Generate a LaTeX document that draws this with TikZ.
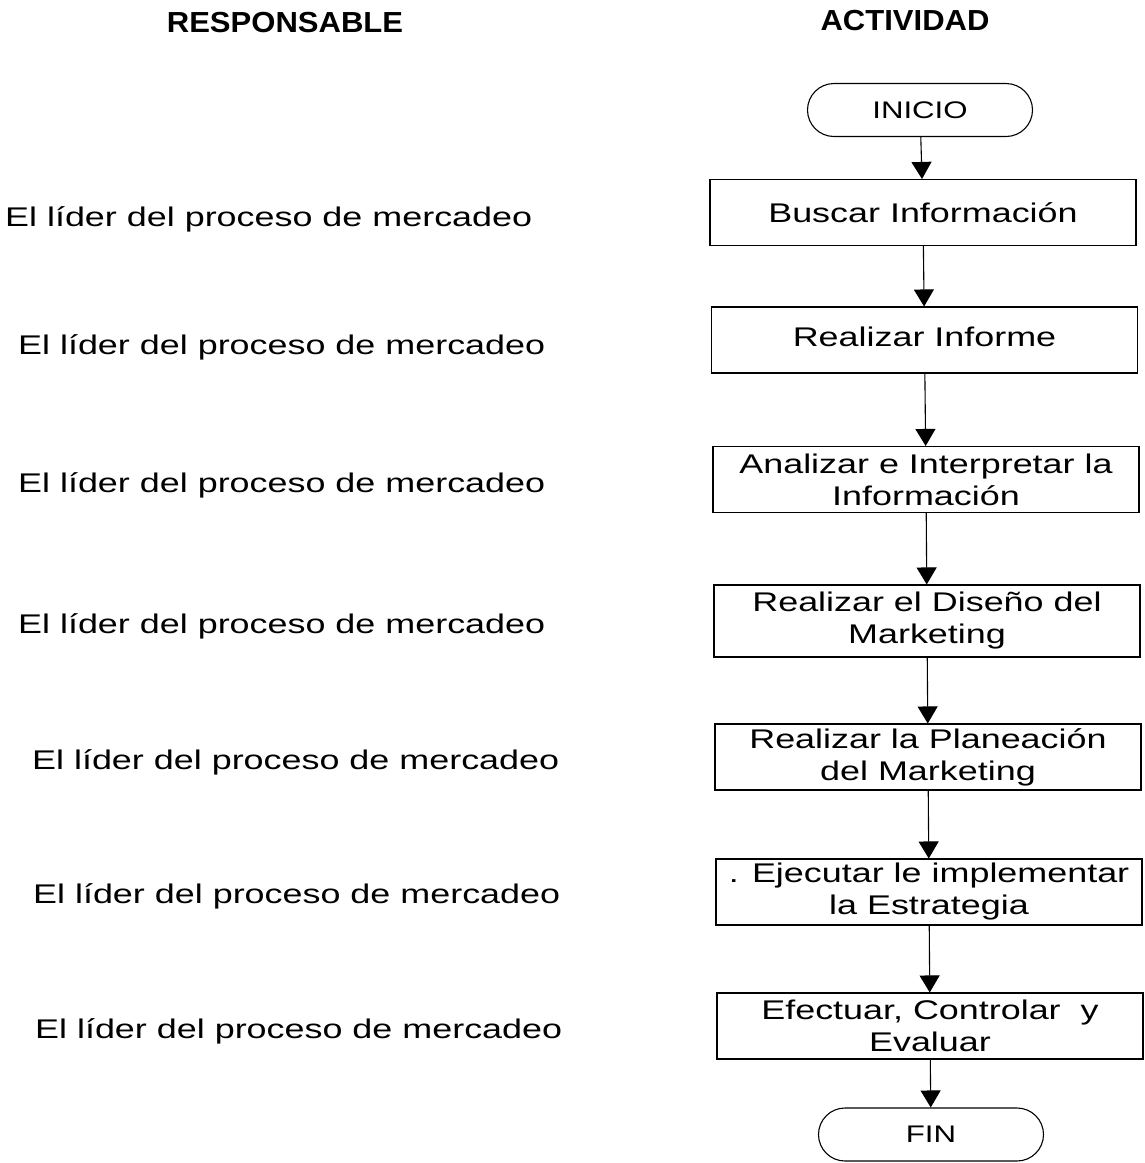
\documentclass[tikz,border=0pt]{standalone}
\usepackage{fontspec}
\setmainfont{Liberation Sans}
\newfontfamily\bodyfont{Liberation Sans}[FakeStretch=1.33]
\newfontfamily\termfont{Liberation Sans}[FakeStretch=1.3]
\newfontfamily\headfont{Liberation Sans}[FakeStretch=1.07]
\usetikzlibrary{arrows.meta,shapes.misc}

\begin{document}
\begin{tikzpicture}[x=1pt,y=-1pt,
  every node/.style={inner sep=0pt},
  lbl/.style={anchor=base west,font=\bodyfont\fontsize{27}{32}\selectfont},
  head/.style={anchor=base,font=\headfont\bfseries\fontsize{29}{32}\selectfont},
  actbox/.style={draw,line width=1.1pt,minimum width=426pt,minimum height=66pt,
    align=center,font=\bodyfont\fontsize{27}{32}\selectfont},
  term/.style={draw,line width=1.1pt,rounded rectangle,minimum width=225pt,
    minimum height=53pt,font=\termfont\fontsize{24}{28}\selectfont},
  flow/.style={line width=1.1pt,-{Triangle[width=20pt,length=17pt]}}
]
\useasboundingbox[fill=white] (0,0) rectangle (1145,1163);

% column headings
\node[head] (hr) at (285,32) {RESPONSABLE};
\node[head] (ha) at (905,30) {ACTIVIDAD};

% responsible for each step
\node[lbl] (r1) at (5,226)  {El líder del proceso de mercadeo};
\node[lbl] (r2) at (18,354) {El líder del proceso de mercadeo};
\node[lbl] (r3) at (18,492) {El líder del proceso de mercadeo};
\node[lbl] (r4) at (18,633) {El líder del proceso de mercadeo};
\node[lbl] (r5) at (32,769) {El líder del proceso de mercadeo};
\node[lbl] (r6) at (33,903) {El líder del proceso de mercadeo};
\node[lbl] (r7) at (35,1038) {El líder del proceso de mercadeo};

% activity flow
\node[term] (inicio) at (920,110) {INICIO};
\node[actbox] (b1) at (923,212.5) {Buscar Información};
\node[actbox] (b2) at (924.5,340) {\raisebox{6pt}{Realizar Informe}};
\node[actbox] (b3) at (926,479.5) {Analizar e Interpretar la\\Información};
\node[actbox,minimum height=72pt] (b4) at (927,621) {Realizar el Diseño del\\Marketing};
\node[actbox] (b5) at (928,757) {Realizar la Planeación\\del Marketing};
\node[actbox] (b6) at (929,892) {. Ejecutar le implementar\\la Estrategia};
\node[actbox] (b7) at (930,1026) {Efectuar, Controlar\ \ y\\Evaluar};
\node[term] (fin) at (931,1134.5) {FIN};

\draw[flow] (inicio) -- (b1);
\draw[flow] (b1) -- (b2);
\draw[flow] (b2) -- (b3);
\draw[flow] (b3) -- (b4);
\draw[flow] (b4) -- (b5);
\draw[flow] (b5) -- (b6);
\draw[flow] (b6) -- (b7);
\draw[flow] (b7) -- (fin);
\end{tikzpicture}
\end{document}
